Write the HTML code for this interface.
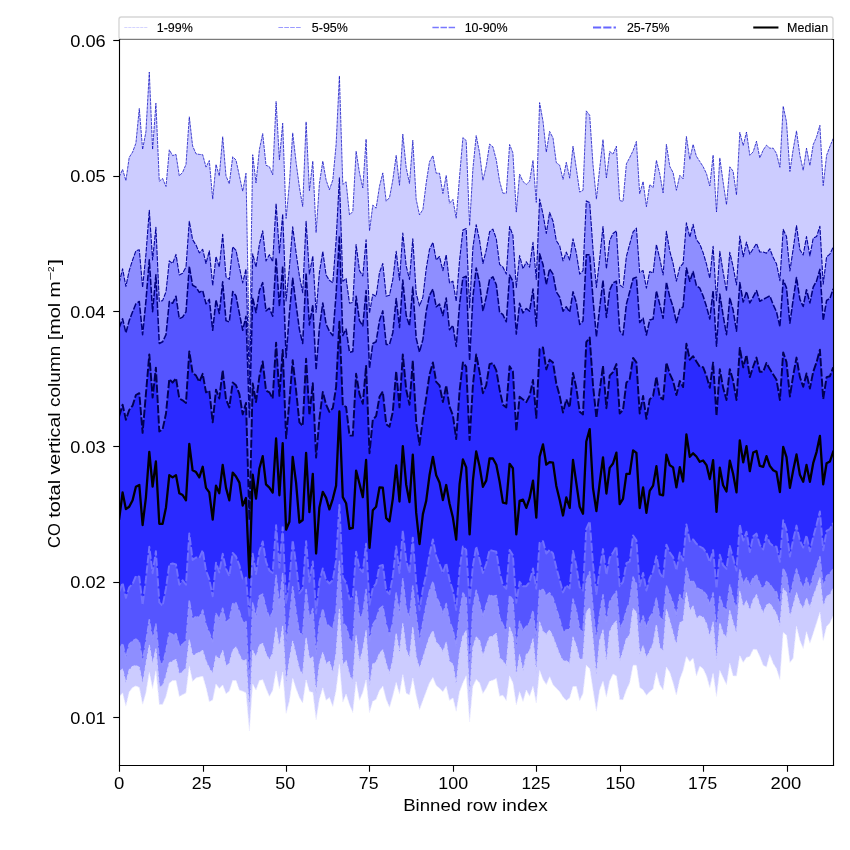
<!DOCTYPE html>
<html lang="en"><head><meta charset="utf-8"><title>CO total vertical column percentiles</title>
<style>html,body{margin:0;padding:0;background:#fff}body{width:850px;height:850px;overflow:hidden;font-family:"Liberation Sans",sans-serif}svg{display:block;will-change:transform}text{font-family:"Liberation Sans",sans-serif;fill:#000}</style></head><body>
<svg width="850" height="850" viewBox="0 0 850 850">
<rect width="850" height="850" fill="#fff"/>
<defs><clipPath id="ax"><rect x="119.0" y="39.0" width="714.0" height="726.0"/></clipPath></defs>
<g clip-path="url(#ax)">
<polygon points="119.2,176.8 122.6,169.4 125.9,180.6 129.2,157.4 132.6,152.1 135.9,143.2 139.3,108.5 142.6,149.4 145.9,131.8 149.3,72.1 152.6,149.4 155.9,103.2 159.3,181.2 162.6,178.5 166.0,186.5 169.3,149.8 172.6,155.6 176.0,154.4 179.3,175.9 182.6,172.4 186.0,164.4 189.3,116.8 192.6,145.9 196.0,153.8 199.3,154.4 202.7,154.7 206.0,167.1 209.3,160.5 212.7,199.1 216.0,164.4 219.3,175.9 222.7,136.7 226.0,175.9 229.3,183.8 232.7,156.8 236.0,160.0 239.4,175.9 242.7,191.2 246.0,173.2 249.4,357.0 252.7,154.7 256.0,182.9 259.4,149.4 262.7,133.5 266.0,165.3 269.4,166.7 272.7,174.7 276.1,101.5 279.4,159.7 282.7,123.2 286.1,218.5 289.4,183.5 292.7,132.9 296.1,162.4 299.4,187.1 302.7,206.5 306.1,121.8 309.4,190.6 312.8,161.1 316.1,232.6 319.4,183.5 322.8,161.1 326.1,180.0 329.4,189.7 332.8,180.0 336.1,144.7 339.4,75.9 342.8,184.4 346.1,181.8 349.5,215.0 352.8,211.5 356.1,151.2 359.5,172.9 362.8,187.9 366.1,139.1 369.5,230.9 372.8,205.1 376.1,208.2 379.5,186.2 382.8,172.9 386.2,201.2 389.5,197.6 392.8,180.0 396.2,155.3 399.5,185.3 402.8,134.1 406.2,167.6 409.5,183.5 412.8,140.3 416.2,199.4 419.5,214.9 422.9,209.4 426.2,182.9 429.5,161.8 432.9,155.6 436.2,173.2 439.5,173.2 442.9,193.5 446.2,175.4 449.5,203.2 452.9,199.4 456.2,218.2 459.6,175.9 462.9,137.6 466.2,140.6 469.6,225.6 472.9,168.8 476.2,135.6 479.6,152.9 482.9,180.3 486.2,166.2 489.6,144.1 492.9,146.8 496.3,160.0 499.6,181.2 502.9,193.2 506.3,193.2 509.6,144.5 512.9,152.9 516.3,212.1 519.6,174.1 523.0,181.5 526.3,184.4 529.6,181.2 533.0,160.4 536.3,202.4 539.6,102.6 543.0,121.2 546.3,152.1 549.6,131.4 553.0,137.9 556.3,162.6 559.7,165.3 563.0,179.4 566.3,162.3 569.7,178.2 573.0,146.2 576.3,168.2 579.7,192.1 583.0,190.3 586.3,110.9 589.7,115.3 593.0,164.7 596.4,199.1 599.7,168.2 603.0,139.6 606.4,177.9 609.7,151.5 613.0,154.1 616.4,146.2 619.7,200.5 623.0,201.4 626.4,163.8 629.7,157.6 633.1,150.6 636.4,141.4 639.7,193.8 643.1,181.5 646.4,206.7 649.7,184.5 653.1,187.6 656.4,160.3 659.7,173.5 663.1,192.9 666.4,144.4 669.8,166.5 673.1,172.6 676.4,190.3 679.8,175.3 683.1,178.8 686.4,136.5 689.8,159.4 693.1,144.4 696.4,156.2 699.8,161.5 703.1,166.6 706.5,173.7 709.8,186.0 713.1,155.1 716.5,212.0 719.8,157.9 723.1,181.8 726.5,204.7 729.8,166.8 733.1,171.2 736.5,195.0 739.8,132.4 743.2,145.6 746.5,132.0 749.8,155.3 753.2,151.8 756.5,141.2 759.8,157.9 763.2,150.0 766.5,145.2 769.8,148.2 773.2,148.2 776.5,153.5 779.9,167.3 783.2,106.2 786.5,121.8 789.9,171.5 793.2,149.1 796.5,130.9 799.9,155.3 803.2,170.3 806.5,148.2 809.9,165.5 813.2,144.7 816.6,136.8 819.9,125.3 823.2,185.6 826.6,155.3 829.9,146.5 833.2,138.5 833.2,615.9 829.9,622.9 826.6,626.5 823.2,640.6 819.9,612.4 816.6,622.9 813.2,633.5 809.9,643.2 806.5,631.8 803.2,648.5 799.9,640.6 796.5,626.5 793.2,658.2 789.9,662.6 786.5,635.3 783.2,632.6 779.9,679.4 776.5,668.8 773.2,663.5 769.8,654.7 766.5,667.1 763.2,665.3 759.8,656.5 756.5,649.4 753.2,649.4 749.8,656.5 746.5,657.4 743.2,662.6 739.8,655.6 736.5,675.9 733.1,675.9 729.8,663.5 726.5,684.7 723.1,677.6 719.8,670.6 716.5,696.6 713.1,673.2 709.8,687.8 706.5,675.9 703.1,668.8 699.8,666.2 696.4,675.9 693.1,658.2 689.8,661.8 686.4,656.5 683.1,670.6 679.8,679.4 676.4,695.3 673.1,682.9 669.8,672.4 666.4,667.1 663.1,690.0 659.7,684.7 656.4,672.4 653.1,689.1 649.7,691.8 646.4,695.3 643.1,690.0 639.7,687.4 636.4,665.3 633.1,665.3 629.7,682.9 626.4,690.0 623.0,699.7 619.7,699.7 616.4,675.9 613.0,674.1 609.7,681.2 606.4,697.1 603.0,681.2 599.7,690.0 596.4,711.2 593.0,690.0 589.7,668.8 586.3,665.3 583.0,693.5 579.7,700.6 576.3,686.5 573.0,686.5 569.7,697.9 566.3,700.6 563.0,697.1 559.7,691.8 556.3,688.2 553.0,684.7 549.6,676.8 546.3,684.7 543.0,679.4 539.6,670.6 536.3,703.2 533.0,686.5 529.6,696.2 526.3,690.0 523.0,701.5 519.6,691.8 516.3,705.0 512.9,682.9 509.6,675.9 506.3,700.6 502.9,695.3 499.6,696.2 496.3,678.5 492.9,680.3 489.6,681.2 486.2,688.2 482.9,693.5 479.6,682.9 476.2,679.4 472.9,686.5 469.6,721.8 466.2,675.9 462.9,682.9 459.6,691.8 456.2,711.2 452.9,697.9 449.5,700.6 446.2,686.5 442.9,691.8 439.5,688.2 436.2,685.6 432.9,677.6 429.5,682.9 426.2,691.8 422.9,700.6 419.5,709.7 416.2,695.9 412.8,678.2 409.5,695.0 406.2,693.2 402.8,674.7 399.5,694.1 396.2,682.6 392.8,695.9 389.5,707.4 386.2,699.4 382.8,686.2 379.5,690.6 376.1,699.4 372.8,701.2 369.5,712.6 366.1,680.0 362.8,692.4 359.5,700.3 356.1,681.8 352.8,712.6 349.5,704.7 346.1,694.1 342.8,702.1 339.4,664.1 336.1,690.6 332.8,706.5 329.4,697.6 326.1,700.3 322.8,687.9 319.4,699.4 316.1,719.7 312.8,692.4 309.4,691.5 306.1,680.0 302.7,702.9 299.4,697.6 296.1,688.8 292.7,678.2 289.4,701.2 286.1,713.5 282.7,672.1 279.4,688.8 276.1,671.2 272.7,690.6 269.4,696.6 266.0,688.5 262.7,679.7 259.4,680.6 256.0,690.3 252.7,684.1 249.4,731.0 246.0,692.9 242.7,691.2 239.4,690.3 236.0,680.6 232.7,680.6 229.3,691.2 226.0,693.8 222.7,685.0 219.3,688.5 216.0,684.1 212.7,700.0 209.3,701.8 206.0,687.6 202.7,676.2 199.3,677.1 196.0,677.9 192.6,681.5 189.3,666.5 186.0,692.9 182.6,694.7 179.3,696.5 176.0,680.6 172.6,680.6 169.3,683.2 166.0,696.5 162.6,704.4 159.3,704.4 155.9,670.9 152.6,688.5 149.3,672.6 145.9,692.9 142.6,704.4 139.3,687.6 135.9,685.9 132.6,687.6 129.2,692.1 125.9,706.2 122.6,692.9 119.2,696.5" fill="#0000ff" fill-opacity="0.2"/>
<polyline points="119.2,696.5 122.6,692.9 125.9,706.2 129.2,692.1 132.6,687.6 135.9,685.9 139.3,687.6 142.6,704.4 145.9,692.9 149.3,672.6 152.6,688.5 155.9,670.9 159.3,704.4 162.6,704.4 166.0,696.5 169.3,683.2 172.6,680.6 176.0,680.6 179.3,696.5 182.6,694.7 186.0,692.9 189.3,666.5 192.6,681.5 196.0,677.9 199.3,677.1 202.7,676.2 206.0,687.6 209.3,701.8 212.7,700.0 216.0,684.1 219.3,688.5 222.7,685.0 226.0,693.8 229.3,691.2 232.7,680.6 236.0,680.6 239.4,690.3 242.7,691.2 246.0,692.9 249.4,731.0 252.7,684.1 256.0,690.3 259.4,680.6 262.7,679.7 266.0,688.5 269.4,696.6 272.7,690.6 276.1,671.2 279.4,688.8 282.7,672.1 286.1,713.5 289.4,701.2 292.7,678.2 296.1,688.8 299.4,697.6 302.7,702.9 306.1,680.0 309.4,691.5 312.8,692.4 316.1,719.7 319.4,699.4 322.8,687.9 326.1,700.3 329.4,697.6 332.8,706.5 336.1,690.6 339.4,664.1 342.8,702.1 346.1,694.1 349.5,704.7 352.8,712.6 356.1,681.8 359.5,700.3 362.8,692.4 366.1,680.0 369.5,712.6 372.8,701.2 376.1,699.4 379.5,690.6 382.8,686.2 386.2,699.4 389.5,707.4 392.8,695.9 396.2,682.6 399.5,694.1 402.8,674.7 406.2,693.2 409.5,695.0 412.8,678.2 416.2,695.9 419.5,709.7 422.9,700.6 426.2,691.8 429.5,682.9 432.9,677.6 436.2,685.6 439.5,688.2 442.9,691.8 446.2,686.5 449.5,700.6 452.9,697.9 456.2,711.2 459.6,691.8 462.9,682.9 466.2,675.9 469.6,721.8 472.9,686.5 476.2,679.4 479.6,682.9 482.9,693.5 486.2,688.2 489.6,681.2 492.9,680.3 496.3,678.5 499.6,696.2 502.9,695.3 506.3,700.6 509.6,675.9 512.9,682.9 516.3,705.0 519.6,691.8 523.0,701.5 526.3,690.0 529.6,696.2 533.0,686.5 536.3,703.2 539.6,670.6 543.0,679.4 546.3,684.7 549.6,676.8 553.0,684.7 556.3,688.2 559.7,691.8 563.0,697.1 566.3,700.6 569.7,697.9 573.0,686.5 576.3,686.5 579.7,700.6 583.0,693.5 586.3,665.3 589.7,668.8 593.0,690.0 596.4,711.2 599.7,690.0 603.0,681.2 606.4,697.1 609.7,681.2 613.0,674.1 616.4,675.9 619.7,699.7 623.0,699.7 626.4,690.0 629.7,682.9 633.1,665.3 636.4,665.3 639.7,687.4 643.1,690.0 646.4,695.3 649.7,691.8 653.1,689.1 656.4,672.4 659.7,684.7 663.1,690.0 666.4,667.1 669.8,672.4 673.1,682.9 676.4,695.3 679.8,679.4 683.1,670.6 686.4,656.5 689.8,661.8 693.1,658.2 696.4,675.9 699.8,666.2 703.1,668.8 706.5,675.9 709.8,687.8 713.1,673.2 716.5,696.6 719.8,670.6 723.1,677.6 726.5,684.7 729.8,663.5 733.1,675.9 736.5,675.9 739.8,655.6 743.2,662.6 746.5,657.4 749.8,656.5 753.2,649.4 756.5,649.4 759.8,656.5 763.2,665.3 766.5,667.1 769.8,654.7 773.2,663.5 776.5,668.8 779.9,679.4 783.2,632.6 786.5,635.3 789.9,662.6 793.2,658.2 796.5,626.5 799.9,640.6 803.2,648.5 806.5,631.8 809.9,643.2 813.2,633.5 816.6,622.9 819.9,612.4 823.2,640.6 826.6,626.5 829.9,622.9 833.2,615.9" fill="none" stroke="#eeeeff" stroke-width="0.75" stroke-dasharray="3.15 0.83" stroke-linejoin="round"/>
<polyline points="119.2,176.8 122.6,169.4 125.9,180.6 129.2,157.4 132.6,152.1 135.9,143.2 139.3,108.5 142.6,149.4 145.9,131.8 149.3,72.1 152.6,149.4 155.9,103.2 159.3,181.2 162.6,178.5 166.0,186.5 169.3,149.8 172.6,155.6 176.0,154.4 179.3,175.9 182.6,172.4 186.0,164.4 189.3,116.8 192.6,145.9 196.0,153.8 199.3,154.4 202.7,154.7 206.0,167.1 209.3,160.5 212.7,199.1 216.0,164.4 219.3,175.9 222.7,136.7 226.0,175.9 229.3,183.8 232.7,156.8 236.0,160.0 239.4,175.9 242.7,191.2 246.0,173.2 249.4,357.0 252.7,154.7 256.0,182.9 259.4,149.4 262.7,133.5 266.0,165.3 269.4,166.7 272.7,174.7 276.1,101.5 279.4,159.7 282.7,123.2 286.1,218.5 289.4,183.5 292.7,132.9 296.1,162.4 299.4,187.1 302.7,206.5 306.1,121.8 309.4,190.6 312.8,161.1 316.1,232.6 319.4,183.5 322.8,161.1 326.1,180.0 329.4,189.7 332.8,180.0 336.1,144.7 339.4,75.9 342.8,184.4 346.1,181.8 349.5,215.0 352.8,211.5 356.1,151.2 359.5,172.9 362.8,187.9 366.1,139.1 369.5,230.9 372.8,205.1 376.1,208.2 379.5,186.2 382.8,172.9 386.2,201.2 389.5,197.6 392.8,180.0 396.2,155.3 399.5,185.3 402.8,134.1 406.2,167.6 409.5,183.5 412.8,140.3 416.2,199.4 419.5,214.9 422.9,209.4 426.2,182.9 429.5,161.8 432.9,155.6 436.2,173.2 439.5,173.2 442.9,193.5 446.2,175.4 449.5,203.2 452.9,199.4 456.2,218.2 459.6,175.9 462.9,137.6 466.2,140.6 469.6,225.6 472.9,168.8 476.2,135.6 479.6,152.9 482.9,180.3 486.2,166.2 489.6,144.1 492.9,146.8 496.3,160.0 499.6,181.2 502.9,193.2 506.3,193.2 509.6,144.5 512.9,152.9 516.3,212.1 519.6,174.1 523.0,181.5 526.3,184.4 529.6,181.2 533.0,160.4 536.3,202.4 539.6,102.6 543.0,121.2 546.3,152.1 549.6,131.4 553.0,137.9 556.3,162.6 559.7,165.3 563.0,179.4 566.3,162.3 569.7,178.2 573.0,146.2 576.3,168.2 579.7,192.1 583.0,190.3 586.3,110.9 589.7,115.3 593.0,164.7 596.4,199.1 599.7,168.2 603.0,139.6 606.4,177.9 609.7,151.5 613.0,154.1 616.4,146.2 619.7,200.5 623.0,201.4 626.4,163.8 629.7,157.6 633.1,150.6 636.4,141.4 639.7,193.8 643.1,181.5 646.4,206.7 649.7,184.5 653.1,187.6 656.4,160.3 659.7,173.5 663.1,192.9 666.4,144.4 669.8,166.5 673.1,172.6 676.4,190.3 679.8,175.3 683.1,178.8 686.4,136.5 689.8,159.4 693.1,144.4 696.4,156.2 699.8,161.5 703.1,166.6 706.5,173.7 709.8,186.0 713.1,155.1 716.5,212.0 719.8,157.9 723.1,181.8 726.5,204.7 729.8,166.8 733.1,171.2 736.5,195.0 739.8,132.4 743.2,145.6 746.5,132.0 749.8,155.3 753.2,151.8 756.5,141.2 759.8,157.9 763.2,150.0 766.5,145.2 769.8,148.2 773.2,148.2 776.5,153.5 779.9,167.3 783.2,106.2 786.5,121.8 789.9,171.5 793.2,149.1 796.5,130.9 799.9,155.3 803.2,170.3 806.5,148.2 809.9,165.5 813.2,144.7 816.6,136.8 819.9,125.3 823.2,185.6 826.6,155.3 829.9,146.5 833.2,138.5" fill="none" stroke="#0c0cc0" stroke-width="0.75" stroke-dasharray="3.15 0.83" stroke-linejoin="round"/>
<polygon points="119.2,282.9 122.6,268.8 125.9,286.5 129.2,270.6 132.6,260.0 135.9,250.8 139.3,249.8 142.6,287.4 145.9,254.7 149.3,210.2 152.6,260.0 155.9,227.4 159.3,301.5 162.6,300.6 166.0,291.8 169.3,260.9 172.6,263.5 176.0,254.4 179.3,275.0 182.6,273.2 186.0,267.1 189.3,221.2 192.6,239.7 196.0,245.0 199.3,252.9 202.7,249.4 206.0,263.5 209.3,250.8 212.7,285.6 216.0,256.5 219.3,267.1 222.7,234.4 226.0,276.8 229.3,279.4 232.7,246.8 236.0,250.3 239.4,267.1 242.7,282.9 246.0,268.8 249.4,384.0 252.7,253.8 256.0,267.1 259.4,244.1 262.7,230.9 266.0,260.9 269.4,254.7 272.7,261.8 276.1,203.5 279.4,252.9 282.7,214.1 286.1,300.9 289.4,267.4 292.7,226.8 296.1,252.9 299.4,275.9 302.7,292.6 306.1,221.2 309.4,274.1 312.8,255.9 316.1,312.4 319.4,272.4 322.8,251.5 326.1,275.0 329.4,280.3 332.8,282.9 336.1,240.6 339.4,177.9 342.8,281.2 346.1,278.5 349.5,303.2 352.8,302.4 356.1,244.5 359.5,270.6 362.8,275.9 366.1,239.7 369.5,313.2 372.8,294.4 376.1,296.2 379.5,272.4 382.8,263.5 386.2,296.2 389.5,295.3 392.8,279.4 396.2,251.2 399.5,280.3 402.8,233.0 406.2,266.2 409.5,279.4 412.8,238.8 416.2,293.5 419.5,305.9 422.9,297.1 426.2,268.8 429.5,249.4 432.9,242.4 436.2,260.0 439.5,256.5 442.9,270.6 446.2,254.7 449.5,282.9 452.9,281.2 456.2,301.5 459.6,260.0 462.9,230.0 466.2,228.6 469.6,307.6 472.9,247.6 476.2,224.7 479.6,240.6 482.9,263.5 486.2,250.3 489.6,231.8 492.9,229.1 496.3,238.8 499.6,264.4 502.9,267.1 506.3,274.1 509.6,226.5 512.9,235.3 516.3,287.4 519.6,255.6 523.0,268.8 526.3,261.8 529.6,267.1 533.0,242.4 536.3,279.4 539.6,199.1 543.0,214.1 546.3,233.5 549.6,212.4 553.0,221.2 556.3,240.6 559.7,245.9 563.0,260.9 566.3,252.1 569.7,260.0 573.0,238.8 576.3,252.9 579.7,274.1 583.0,270.6 586.3,200.9 589.7,202.6 593.0,249.4 596.4,287.4 599.7,258.2 603.0,226.5 606.4,268.8 609.7,240.6 613.0,233.5 616.4,230.9 619.7,284.7 623.0,287.4 626.4,256.5 629.7,244.1 633.1,231.8 636.4,228.2 639.7,272.4 643.1,270.6 646.4,288.2 649.7,271.5 653.1,273.2 656.4,244.5 659.7,258.2 663.1,275.0 666.4,231.4 669.8,251.2 673.1,263.5 676.4,281.2 679.8,267.1 683.1,263.5 686.4,222.9 689.8,237.1 693.1,224.4 696.4,239.7 699.8,244.1 703.1,252.6 706.5,264.1 709.8,278.2 713.1,246.2 716.5,300.7 719.8,251.3 723.1,271.8 726.5,291.2 729.8,252.4 733.1,266.5 736.5,285.0 739.8,236.1 743.2,256.8 746.5,242.1 749.8,254.1 753.2,248.8 756.5,243.5 759.8,252.0 763.2,252.0 766.5,253.2 769.8,248.8 773.2,257.6 776.5,263.8 779.9,280.6 783.2,229.4 786.5,236.5 789.9,270.9 793.2,248.8 796.5,225.5 799.9,249.7 803.2,255.0 806.5,236.5 809.9,255.9 813.2,238.2 816.6,236.5 819.9,226.2 823.2,284.1 826.6,256.8 829.9,254.1 833.2,247.1 833.2,588.5 829.9,594.7 826.6,596.5 823.2,607.1 819.9,577.9 816.6,587.6 813.2,596.5 809.9,607.9 806.5,598.2 803.2,608.8 799.9,603.5 796.5,592.9 793.2,605.3 789.9,617.6 786.5,592.9 783.2,588.5 779.9,626.5 776.5,614.1 773.2,608.8 769.8,603.5 766.5,605.3 763.2,613.2 759.8,605.3 756.5,594.7 753.2,600.0 749.8,610.6 746.5,600.9 743.2,607.1 739.8,591.2 736.5,633.5 733.1,622.9 729.8,610.6 726.5,637.9 723.1,633.5 719.8,622.9 716.5,662.6 713.1,622.1 709.8,637.1 706.5,623.8 703.1,617.2 699.8,615.9 696.4,618.5 693.1,606.2 689.8,610.6 686.4,592.9 683.1,621.2 679.8,622.9 676.4,645.9 673.1,633.5 669.8,621.2 666.4,609.7 663.1,651.2 659.7,647.6 656.4,624.7 653.1,644.1 649.7,651.2 646.4,658.2 643.1,645.9 639.7,654.7 636.4,612.4 633.1,608.8 629.7,635.3 626.4,638.8 623.0,651.2 619.7,661.8 616.4,621.2 613.0,624.7 609.7,631.8 606.4,663.5 603.0,630.0 599.7,640.6 596.4,675.9 593.0,640.6 589.7,607.9 586.3,612.4 583.0,658.2 579.7,660.0 576.3,645.9 573.0,637.1 569.7,663.5 566.3,660.9 563.0,660.9 559.7,654.7 556.3,645.9 553.0,637.1 549.6,630.0 546.3,634.4 543.0,631.8 539.6,622.1 536.3,674.1 533.0,638.8 529.6,651.2 526.3,654.7 523.0,671.5 519.6,654.7 516.3,676.8 512.9,636.2 509.6,627.4 506.3,666.2 502.9,660.9 499.6,658.2 496.3,633.5 492.9,636.2 489.6,637.1 486.2,645.9 482.9,656.5 479.6,640.6 476.2,637.1 472.9,647.6 469.6,697.1 466.2,630.9 462.9,636.2 459.6,652.9 456.2,684.7 452.9,664.4 449.5,661.8 446.2,642.4 442.9,652.1 439.5,645.9 436.2,642.4 432.9,630.9 429.5,637.1 426.2,647.6 422.9,658.2 419.5,669.1 416.2,657.1 412.8,627.1 409.5,657.9 406.2,650.0 402.8,623.5 399.5,653.5 396.2,633.2 392.8,660.6 389.5,673.8 386.2,664.1 382.8,650.0 379.5,653.5 376.1,662.4 372.8,664.1 369.5,687.9 366.1,630.6 362.8,650.0 359.5,662.4 356.1,635.9 352.8,681.8 349.5,674.7 346.1,660.6 342.8,665.9 339.4,609.4 336.1,653.5 332.8,672.9 329.4,661.5 326.1,664.1 322.8,652.6 319.4,664.1 316.1,694.1 312.8,657.1 309.4,658.8 306.1,637.6 302.7,674.7 299.4,669.4 296.1,655.3 292.7,641.2 289.4,660.6 286.1,683.5 282.7,626.2 279.4,648.2 276.1,627.9 272.7,653.5 269.4,660.0 266.0,654.1 262.7,643.5 259.4,645.3 256.0,657.6 252.7,650.6 249.4,712.0 246.0,659.4 242.7,661.2 239.4,655.0 236.0,647.1 232.7,650.6 229.3,663.8 226.0,666.5 222.7,650.6 219.3,659.4 216.0,655.9 212.7,673.5 209.3,668.2 206.0,661.2 202.7,650.6 199.3,652.4 196.0,654.1 192.6,655.9 189.3,640.0 186.0,668.2 182.6,671.8 179.3,674.4 176.0,659.4 172.6,661.2 169.3,662.9 166.0,676.2 162.6,685.9 159.3,686.8 155.9,648.8 152.6,664.7 149.3,645.3 145.9,664.7 142.6,684.1 139.3,667.4 135.9,665.6 132.6,666.5 129.2,670.0 125.9,683.2 122.6,669.1 119.2,671.8" fill="#0000ff" fill-opacity="0.3"/>
<polyline points="119.2,671.8 122.6,669.1 125.9,683.2 129.2,670.0 132.6,666.5 135.9,665.6 139.3,667.4 142.6,684.1 145.9,664.7 149.3,645.3 152.6,664.7 155.9,648.8 159.3,686.8 162.6,685.9 166.0,676.2 169.3,662.9 172.6,661.2 176.0,659.4 179.3,674.4 182.6,671.8 186.0,668.2 189.3,640.0 192.6,655.9 196.0,654.1 199.3,652.4 202.7,650.6 206.0,661.2 209.3,668.2 212.7,673.5 216.0,655.9 219.3,659.4 222.7,650.6 226.0,666.5 229.3,663.8 232.7,650.6 236.0,647.1 239.4,655.0 242.7,661.2 246.0,659.4 249.4,712.0 252.7,650.6 256.0,657.6 259.4,645.3 262.7,643.5 266.0,654.1 269.4,660.0 272.7,653.5 276.1,627.9 279.4,648.2 282.7,626.2 286.1,683.5 289.4,660.6 292.7,641.2 296.1,655.3 299.4,669.4 302.7,674.7 306.1,637.6 309.4,658.8 312.8,657.1 316.1,694.1 319.4,664.1 322.8,652.6 326.1,664.1 329.4,661.5 332.8,672.9 336.1,653.5 339.4,609.4 342.8,665.9 346.1,660.6 349.5,674.7 352.8,681.8 356.1,635.9 359.5,662.4 362.8,650.0 366.1,630.6 369.5,687.9 372.8,664.1 376.1,662.4 379.5,653.5 382.8,650.0 386.2,664.1 389.5,673.8 392.8,660.6 396.2,633.2 399.5,653.5 402.8,623.5 406.2,650.0 409.5,657.9 412.8,627.1 416.2,657.1 419.5,669.1 422.9,658.2 426.2,647.6 429.5,637.1 432.9,630.9 436.2,642.4 439.5,645.9 442.9,652.1 446.2,642.4 449.5,661.8 452.9,664.4 456.2,684.7 459.6,652.9 462.9,636.2 466.2,630.9 469.6,697.1 472.9,647.6 476.2,637.1 479.6,640.6 482.9,656.5 486.2,645.9 489.6,637.1 492.9,636.2 496.3,633.5 499.6,658.2 502.9,660.9 506.3,666.2 509.6,627.4 512.9,636.2 516.3,676.8 519.6,654.7 523.0,671.5 526.3,654.7 529.6,651.2 533.0,638.8 536.3,674.1 539.6,622.1 543.0,631.8 546.3,634.4 549.6,630.0 553.0,637.1 556.3,645.9 559.7,654.7 563.0,660.9 566.3,660.9 569.7,663.5 573.0,637.1 576.3,645.9 579.7,660.0 583.0,658.2 586.3,612.4 589.7,607.9 593.0,640.6 596.4,675.9 599.7,640.6 603.0,630.0 606.4,663.5 609.7,631.8 613.0,624.7 616.4,621.2 619.7,661.8 623.0,651.2 626.4,638.8 629.7,635.3 633.1,608.8 636.4,612.4 639.7,654.7 643.1,645.9 646.4,658.2 649.7,651.2 653.1,644.1 656.4,624.7 659.7,647.6 663.1,651.2 666.4,609.7 669.8,621.2 673.1,633.5 676.4,645.9 679.8,622.9 683.1,621.2 686.4,592.9 689.8,610.6 693.1,606.2 696.4,618.5 699.8,615.9 703.1,617.2 706.5,623.8 709.8,637.1 713.1,622.1 716.5,662.6 719.8,622.9 723.1,633.5 726.5,637.9 729.8,610.6 733.1,622.9 736.5,633.5 739.8,591.2 743.2,607.1 746.5,600.9 749.8,610.6 753.2,600.0 756.5,594.7 759.8,605.3 763.2,613.2 766.5,605.3 769.8,603.5 773.2,608.8 776.5,614.1 779.9,626.5 783.2,588.5 786.5,592.9 789.9,617.6 793.2,605.3 796.5,592.9 799.9,603.5 803.2,608.8 806.5,598.2 809.9,607.9 813.2,596.5 816.6,587.6 819.9,577.9 823.2,607.1 826.6,596.5 829.9,594.7 833.2,588.5" fill="none" stroke="#ccccff" stroke-width="1.11" stroke-dasharray="4.66 1.22" stroke-linejoin="round"/>
<polyline points="119.2,282.9 122.6,268.8 125.9,286.5 129.2,270.6 132.6,260.0 135.9,250.8 139.3,249.8 142.6,287.4 145.9,254.7 149.3,210.2 152.6,260.0 155.9,227.4 159.3,301.5 162.6,300.6 166.0,291.8 169.3,260.9 172.6,263.5 176.0,254.4 179.3,275.0 182.6,273.2 186.0,267.1 189.3,221.2 192.6,239.7 196.0,245.0 199.3,252.9 202.7,249.4 206.0,263.5 209.3,250.8 212.7,285.6 216.0,256.5 219.3,267.1 222.7,234.4 226.0,276.8 229.3,279.4 232.7,246.8 236.0,250.3 239.4,267.1 242.7,282.9 246.0,268.8 249.4,384.0 252.7,253.8 256.0,267.1 259.4,244.1 262.7,230.9 266.0,260.9 269.4,254.7 272.7,261.8 276.1,203.5 279.4,252.9 282.7,214.1 286.1,300.9 289.4,267.4 292.7,226.8 296.1,252.9 299.4,275.9 302.7,292.6 306.1,221.2 309.4,274.1 312.8,255.9 316.1,312.4 319.4,272.4 322.8,251.5 326.1,275.0 329.4,280.3 332.8,282.9 336.1,240.6 339.4,177.9 342.8,281.2 346.1,278.5 349.5,303.2 352.8,302.4 356.1,244.5 359.5,270.6 362.8,275.9 366.1,239.7 369.5,313.2 372.8,294.4 376.1,296.2 379.5,272.4 382.8,263.5 386.2,296.2 389.5,295.3 392.8,279.4 396.2,251.2 399.5,280.3 402.8,233.0 406.2,266.2 409.5,279.4 412.8,238.8 416.2,293.5 419.5,305.9 422.9,297.1 426.2,268.8 429.5,249.4 432.9,242.4 436.2,260.0 439.5,256.5 442.9,270.6 446.2,254.7 449.5,282.9 452.9,281.2 456.2,301.5 459.6,260.0 462.9,230.0 466.2,228.6 469.6,307.6 472.9,247.6 476.2,224.7 479.6,240.6 482.9,263.5 486.2,250.3 489.6,231.8 492.9,229.1 496.3,238.8 499.6,264.4 502.9,267.1 506.3,274.1 509.6,226.5 512.9,235.3 516.3,287.4 519.6,255.6 523.0,268.8 526.3,261.8 529.6,267.1 533.0,242.4 536.3,279.4 539.6,199.1 543.0,214.1 546.3,233.5 549.6,212.4 553.0,221.2 556.3,240.6 559.7,245.9 563.0,260.9 566.3,252.1 569.7,260.0 573.0,238.8 576.3,252.9 579.7,274.1 583.0,270.6 586.3,200.9 589.7,202.6 593.0,249.4 596.4,287.4 599.7,258.2 603.0,226.5 606.4,268.8 609.7,240.6 613.0,233.5 616.4,230.9 619.7,284.7 623.0,287.4 626.4,256.5 629.7,244.1 633.1,231.8 636.4,228.2 639.7,272.4 643.1,270.6 646.4,288.2 649.7,271.5 653.1,273.2 656.4,244.5 659.7,258.2 663.1,275.0 666.4,231.4 669.8,251.2 673.1,263.5 676.4,281.2 679.8,267.1 683.1,263.5 686.4,222.9 689.8,237.1 693.1,224.4 696.4,239.7 699.8,244.1 703.1,252.6 706.5,264.1 709.8,278.2 713.1,246.2 716.5,300.7 719.8,251.3 723.1,271.8 726.5,291.2 729.8,252.4 733.1,266.5 736.5,285.0 739.8,236.1 743.2,256.8 746.5,242.1 749.8,254.1 753.2,248.8 756.5,243.5 759.8,252.0 763.2,252.0 766.5,253.2 769.8,248.8 773.2,257.6 776.5,263.8 779.9,280.6 783.2,229.4 786.5,236.5 789.9,270.9 793.2,248.8 796.5,225.5 799.9,249.7 803.2,255.0 806.5,236.5 809.9,255.9 813.2,238.2 816.6,236.5 819.9,226.2 823.2,284.1 826.6,256.8 829.9,254.1 833.2,247.1" fill="none" stroke="#06069c" stroke-width="1.11" stroke-dasharray="4.66 1.22" stroke-linejoin="round"/>
<polygon points="119.2,327.6 122.6,318.8 125.9,332.9 129.2,320.6 132.6,311.8 135.9,303.8 139.3,301.5 142.6,334.7 145.9,301.2 149.3,259.7 152.6,311.8 155.9,274.7 159.3,343.5 162.6,341.8 166.0,334.7 169.3,301.5 172.6,303.3 176.0,296.2 179.3,318.8 182.6,317.1 186.0,311.8 189.3,266.2 192.6,285.3 196.0,287.1 199.3,292.4 202.7,290.6 206.0,303.8 209.3,299.4 212.7,330.3 216.0,299.8 219.3,313.5 222.7,281.8 226.0,320.6 229.3,322.0 232.7,291.5 236.0,295.9 239.4,313.5 242.7,330.3 246.0,316.2 249.4,418.0 252.7,297.6 256.0,312.6 259.4,290.6 262.7,282.6 266.0,310.9 269.4,308.2 272.7,316.2 276.1,257.9 279.4,306.5 282.7,265.9 286.1,357.6 289.4,313.5 292.7,278.2 296.1,304.7 299.4,329.4 302.7,343.5 306.1,272.9 309.4,325.0 312.8,304.7 316.1,370.0 319.4,327.6 322.8,302.9 326.1,324.1 329.4,331.2 332.8,335.6 336.1,294.1 339.4,235.9 342.8,335.6 346.1,329.1 349.5,352.4 352.8,351.5 356.1,296.2 359.5,320.6 362.8,325.9 366.1,290.6 369.5,368.2 372.8,343.5 376.1,341.8 379.5,320.6 382.8,310.9 386.2,344.4 389.5,344.4 392.8,332.9 396.2,298.5 399.5,327.6 402.8,280.0 406.2,315.3 409.5,325.9 412.8,287.1 416.2,338.2 419.5,352.1 422.9,339.4 426.2,311.2 429.5,295.3 432.9,289.1 436.2,306.8 439.5,304.1 442.9,315.6 446.2,297.9 449.5,329.7 452.9,325.3 456.2,346.5 459.6,304.1 462.9,277.6 466.2,276.2 469.6,360.6 472.9,297.1 476.2,267.9 479.6,282.9 482.9,311.2 486.2,297.1 489.6,279.4 492.9,276.8 496.3,284.7 499.6,312.1 502.9,314.7 506.3,321.8 509.6,275.0 512.9,281.2 516.3,334.1 519.6,303.2 523.0,312.9 526.3,308.5 529.6,311.2 533.0,289.1 536.3,326.2 539.6,253.8 543.0,264.4 546.3,284.7 549.6,268.8 553.0,274.1 556.3,291.8 559.7,297.1 563.0,311.2 566.3,306.8 569.7,312.1 573.0,291.8 576.3,302.4 579.7,324.4 583.0,320.9 586.3,254.7 589.7,254.7 593.0,298.8 596.4,336.8 599.7,307.6 603.0,280.3 606.4,317.4 609.7,290.0 613.0,282.9 616.4,281.2 619.7,330.6 623.0,335.0 626.4,304.1 629.7,291.8 633.1,278.5 636.4,277.3 639.7,322.6 643.1,318.2 646.4,335.0 649.7,320.0 653.1,319.1 656.4,290.9 659.7,304.1 663.1,318.2 666.4,282.1 669.8,297.1 673.1,306.8 676.4,322.6 679.8,309.4 683.1,306.8 686.4,267.9 689.8,281.2 693.1,271.5 696.4,285.6 699.8,288.2 703.1,296.0 706.5,306.6 709.8,319.0 713.1,290.7 716.5,346.3 719.8,294.1 723.1,315.3 726.5,334.7 729.8,297.6 733.1,310.0 736.5,331.2 739.8,282.6 743.2,302.1 746.5,291.5 749.8,302.9 753.2,296.8 756.5,290.6 759.8,301.2 763.2,299.4 766.5,297.6 769.8,295.9 773.2,304.7 776.5,311.8 779.9,326.8 783.2,280.0 786.5,287.9 789.9,323.2 793.2,299.4 796.5,277.4 799.9,299.4 803.2,306.5 806.5,289.7 809.9,302.9 813.2,287.1 816.6,280.9 819.9,269.4 823.2,320.6 826.6,300.3 829.9,298.5 833.2,288.8 833.2,569.1 829.9,573.5 826.6,576.2 823.2,587.6 819.9,556.8 816.6,567.4 813.2,576.2 809.9,589.4 806.5,577.9 803.2,589.4 799.9,580.6 796.5,569.1 793.2,582.4 789.9,598.2 786.5,575.3 783.2,568.2 779.9,607.1 776.5,592.1 773.2,589.4 769.8,584.1 766.5,581.5 763.2,589.4 759.8,584.1 756.5,575.3 753.2,577.9 749.8,585.9 746.5,577.9 743.2,584.1 739.8,570.0 736.5,610.6 733.1,598.2 729.8,585.0 726.5,610.6 723.1,607.1 719.8,596.5 716.5,631.8 713.1,592.9 709.8,605.3 706.5,595.1 703.1,590.7 699.8,589.4 696.4,587.6 693.1,580.6 689.8,582.4 686.4,568.2 683.1,601.8 679.8,594.7 676.4,615.9 673.1,603.5 669.8,594.7 666.4,585.9 663.1,620.3 659.7,617.6 656.4,598.2 653.1,612.4 649.7,617.6 646.4,628.2 643.1,615.9 639.7,628.2 636.4,584.1 633.1,577.1 629.7,601.8 626.4,610.6 623.0,622.9 619.7,628.2 616.4,591.2 613.0,596.5 609.7,601.8 606.4,622.9 603.0,594.7 599.7,614.1 596.4,640.6 593.0,608.8 589.7,571.8 586.3,580.6 583.0,631.8 579.7,630.0 576.3,610.6 573.0,599.1 569.7,629.6 566.3,630.0 563.0,631.8 559.7,619.4 556.3,608.8 553.0,598.2 549.6,592.9 546.3,595.6 543.0,589.4 539.6,590.3 536.3,640.6 533.0,610.6 529.6,622.9 526.3,626.5 523.0,630.9 519.6,621.2 516.3,647.6 512.9,600.0 509.6,595.6 506.3,631.8 502.9,624.7 499.6,617.6 496.3,595.6 492.9,596.5 489.6,594.7 486.2,605.3 482.9,616.8 479.6,603.5 476.2,590.3 472.9,608.8 469.6,668.8 466.2,598.2 462.9,592.9 459.6,614.1 456.2,645.9 452.9,630.0 449.5,621.2 446.2,603.5 442.9,614.1 439.5,603.5 436.2,596.5 432.9,581.5 429.5,591.2 426.2,605.3 422.9,622.9 419.5,640.6 416.2,615.9 412.8,585.9 409.5,617.6 406.2,608.8 402.8,578.8 399.5,614.1 396.2,592.9 392.8,622.9 389.5,635.3 386.2,624.7 382.8,606.2 379.5,608.8 376.1,619.4 372.8,624.7 369.5,642.4 366.1,589.4 362.8,614.1 359.5,617.6 356.1,591.2 352.8,644.1 349.5,638.8 346.1,626.5 342.8,622.9 339.4,561.2 336.1,610.6 332.8,629.1 329.4,626.5 326.1,622.9 322.8,608.8 319.4,622.9 316.1,654.7 312.8,608.8 309.4,619.4 306.1,589.4 302.7,634.4 299.4,633.5 296.1,612.4 292.7,586.8 289.4,619.4 286.1,644.1 282.7,573.5 279.4,605.3 276.1,575.3 272.7,612.4 269.4,617.8 266.0,608.2 262.7,594.1 259.4,595.9 256.0,617.1 252.7,602.9 249.4,688.0 246.0,621.5 242.7,622.4 239.4,611.8 236.0,602.9 232.7,603.8 229.3,619.7 226.0,622.4 222.7,608.2 219.3,619.7 216.0,613.5 212.7,641.8 209.3,632.9 206.0,625.0 202.7,610.0 199.3,617.9 196.0,616.2 192.6,619.7 189.3,600.3 186.0,640.9 182.6,644.4 179.3,646.2 176.0,633.8 172.6,634.7 169.3,632.9 166.0,650.6 162.6,664.7 159.3,660.3 155.9,624.1 152.6,640.0 149.3,619.7 145.9,641.8 142.6,661.2 139.3,641.8 135.9,639.1 132.6,640.9 129.2,644.4 125.9,657.6 122.6,643.5 119.2,649.7" fill="#0000ff" fill-opacity="0.4"/>
<polyline points="119.2,649.7 122.6,643.5 125.9,657.6 129.2,644.4 132.6,640.9 135.9,639.1 139.3,641.8 142.6,661.2 145.9,641.8 149.3,619.7 152.6,640.0 155.9,624.1 159.3,660.3 162.6,664.7 166.0,650.6 169.3,632.9 172.6,634.7 176.0,633.8 179.3,646.2 182.6,644.4 186.0,640.9 189.3,600.3 192.6,619.7 196.0,616.2 199.3,617.9 202.7,610.0 206.0,625.0 209.3,632.9 212.7,641.8 216.0,613.5 219.3,619.7 222.7,608.2 226.0,622.4 229.3,619.7 232.7,603.8 236.0,602.9 239.4,611.8 242.7,622.4 246.0,621.5 249.4,688.0 252.7,602.9 256.0,617.1 259.4,595.9 262.7,594.1 266.0,608.2 269.4,617.8 272.7,612.4 276.1,575.3 279.4,605.3 282.7,573.5 286.1,644.1 289.4,619.4 292.7,586.8 296.1,612.4 299.4,633.5 302.7,634.4 306.1,589.4 309.4,619.4 312.8,608.8 316.1,654.7 319.4,622.9 322.8,608.8 326.1,622.9 329.4,626.5 332.8,629.1 336.1,610.6 339.4,561.2 342.8,622.9 346.1,626.5 349.5,638.8 352.8,644.1 356.1,591.2 359.5,617.6 362.8,614.1 366.1,589.4 369.5,642.4 372.8,624.7 376.1,619.4 379.5,608.8 382.8,606.2 386.2,624.7 389.5,635.3 392.8,622.9 396.2,592.9 399.5,614.1 402.8,578.8 406.2,608.8 409.5,617.6 412.8,585.9 416.2,615.9 419.5,640.6 422.9,622.9 426.2,605.3 429.5,591.2 432.9,581.5 436.2,596.5 439.5,603.5 442.9,614.1 446.2,603.5 449.5,621.2 452.9,630.0 456.2,645.9 459.6,614.1 462.9,592.9 466.2,598.2 469.6,668.8 472.9,608.8 476.2,590.3 479.6,603.5 482.9,616.8 486.2,605.3 489.6,594.7 492.9,596.5 496.3,595.6 499.6,617.6 502.9,624.7 506.3,631.8 509.6,595.6 512.9,600.0 516.3,647.6 519.6,621.2 523.0,630.9 526.3,626.5 529.6,622.9 533.0,610.6 536.3,640.6 539.6,590.3 543.0,589.4 546.3,595.6 549.6,592.9 553.0,598.2 556.3,608.8 559.7,619.4 563.0,631.8 566.3,630.0 569.7,629.6 573.0,599.1 576.3,610.6 579.7,630.0 583.0,631.8 586.3,580.6 589.7,571.8 593.0,608.8 596.4,640.6 599.7,614.1 603.0,594.7 606.4,622.9 609.7,601.8 613.0,596.5 616.4,591.2 619.7,628.2 623.0,622.9 626.4,610.6 629.7,601.8 633.1,577.1 636.4,584.1 639.7,628.2 643.1,615.9 646.4,628.2 649.7,617.6 653.1,612.4 656.4,598.2 659.7,617.6 663.1,620.3 666.4,585.9 669.8,594.7 673.1,603.5 676.4,615.9 679.8,594.7 683.1,601.8 686.4,568.2 689.8,582.4 693.1,580.6 696.4,587.6 699.8,589.4 703.1,590.7 706.5,595.1 709.8,605.3 713.1,592.9 716.5,631.8 719.8,596.5 723.1,607.1 726.5,610.6 729.8,585.0 733.1,598.2 736.5,610.6 739.8,570.0 743.2,584.1 746.5,577.9 749.8,585.9 753.2,577.9 756.5,575.3 759.8,584.1 763.2,589.4 766.5,581.5 769.8,584.1 773.2,589.4 776.5,592.1 779.9,607.1 783.2,568.2 786.5,575.3 789.9,598.2 793.2,582.4 796.5,569.1 799.9,580.6 803.2,589.4 806.5,577.9 809.9,589.4 813.2,576.2 816.6,567.4 819.9,556.8 823.2,587.6 826.6,576.2 829.9,573.5 833.2,569.1" fill="none" stroke="#9292ff" stroke-width="1.53" stroke-dasharray="6.43 1.68" stroke-linejoin="round"/>
<polyline points="119.2,327.6 122.6,318.8 125.9,332.9 129.2,320.6 132.6,311.8 135.9,303.8 139.3,301.5 142.6,334.7 145.9,301.2 149.3,259.7 152.6,311.8 155.9,274.7 159.3,343.5 162.6,341.8 166.0,334.7 169.3,301.5 172.6,303.3 176.0,296.2 179.3,318.8 182.6,317.1 186.0,311.8 189.3,266.2 192.6,285.3 196.0,287.1 199.3,292.4 202.7,290.6 206.0,303.8 209.3,299.4 212.7,330.3 216.0,299.8 219.3,313.5 222.7,281.8 226.0,320.6 229.3,322.0 232.7,291.5 236.0,295.9 239.4,313.5 242.7,330.3 246.0,316.2 249.4,418.0 252.7,297.6 256.0,312.6 259.4,290.6 262.7,282.6 266.0,310.9 269.4,308.2 272.7,316.2 276.1,257.9 279.4,306.5 282.7,265.9 286.1,357.6 289.4,313.5 292.7,278.2 296.1,304.7 299.4,329.4 302.7,343.5 306.1,272.9 309.4,325.0 312.8,304.7 316.1,370.0 319.4,327.6 322.8,302.9 326.1,324.1 329.4,331.2 332.8,335.6 336.1,294.1 339.4,235.9 342.8,335.6 346.1,329.1 349.5,352.4 352.8,351.5 356.1,296.2 359.5,320.6 362.8,325.9 366.1,290.6 369.5,368.2 372.8,343.5 376.1,341.8 379.5,320.6 382.8,310.9 386.2,344.4 389.5,344.4 392.8,332.9 396.2,298.5 399.5,327.6 402.8,280.0 406.2,315.3 409.5,325.9 412.8,287.1 416.2,338.2 419.5,352.1 422.9,339.4 426.2,311.2 429.5,295.3 432.9,289.1 436.2,306.8 439.5,304.1 442.9,315.6 446.2,297.9 449.5,329.7 452.9,325.3 456.2,346.5 459.6,304.1 462.9,277.6 466.2,276.2 469.6,360.6 472.9,297.1 476.2,267.9 479.6,282.9 482.9,311.2 486.2,297.1 489.6,279.4 492.9,276.8 496.3,284.7 499.6,312.1 502.9,314.7 506.3,321.8 509.6,275.0 512.9,281.2 516.3,334.1 519.6,303.2 523.0,312.9 526.3,308.5 529.6,311.2 533.0,289.1 536.3,326.2 539.6,253.8 543.0,264.4 546.3,284.7 549.6,268.8 553.0,274.1 556.3,291.8 559.7,297.1 563.0,311.2 566.3,306.8 569.7,312.1 573.0,291.8 576.3,302.4 579.7,324.4 583.0,320.9 586.3,254.7 589.7,254.7 593.0,298.8 596.4,336.8 599.7,307.6 603.0,280.3 606.4,317.4 609.7,290.0 613.0,282.9 616.4,281.2 619.7,330.6 623.0,335.0 626.4,304.1 629.7,291.8 633.1,278.5 636.4,277.3 639.7,322.6 643.1,318.2 646.4,335.0 649.7,320.0 653.1,319.1 656.4,290.9 659.7,304.1 663.1,318.2 666.4,282.1 669.8,297.1 673.1,306.8 676.4,322.6 679.8,309.4 683.1,306.8 686.4,267.9 689.8,281.2 693.1,271.5 696.4,285.6 699.8,288.2 703.1,296.0 706.5,306.6 709.8,319.0 713.1,290.7 716.5,346.3 719.8,294.1 723.1,315.3 726.5,334.7 729.8,297.6 733.1,310.0 736.5,331.2 739.8,282.6 743.2,302.1 746.5,291.5 749.8,302.9 753.2,296.8 756.5,290.6 759.8,301.2 763.2,299.4 766.5,297.6 769.8,295.9 773.2,304.7 776.5,311.8 779.9,326.8 783.2,280.0 786.5,287.9 789.9,323.2 793.2,299.4 796.5,277.4 799.9,299.4 803.2,306.5 806.5,289.7 809.9,302.9 813.2,287.1 816.6,280.9 819.9,269.4 823.2,320.6 826.6,300.3 829.9,298.5 833.2,288.8" fill="none" stroke="#00007c" stroke-width="1.53" stroke-dasharray="6.43 1.68" stroke-linejoin="round"/>
<polygon points="119.2,416.2 122.6,404.7 125.9,419.7 129.2,410.0 132.6,405.6 135.9,395.0 139.3,393.2 142.6,432.9 145.9,394.1 149.3,354.4 152.6,397.6 155.9,367.6 159.3,431.5 162.6,429.4 166.0,413.5 169.3,379.1 172.6,382.6 176.0,378.2 179.3,398.5 182.6,400.3 186.0,402.9 189.3,351.4 192.6,372.9 196.0,375.6 199.3,381.8 202.7,373.8 206.0,392.4 209.3,390.6 212.7,422.4 216.0,389.7 219.3,398.5 222.7,370.3 226.0,399.4 229.3,407.4 232.7,382.6 236.0,385.3 239.4,394.1 242.7,414.4 246.0,402.9 249.4,520.0 252.7,383.5 256.0,402.1 259.4,376.5 262.7,361.5 266.0,390.6 269.4,392.4 272.7,398.5 276.1,342.6 279.4,395.9 282.7,350.0 286.1,438.2 289.4,401.2 292.7,360.2 296.1,390.6 299.4,422.4 302.7,425.9 306.1,358.8 309.4,415.3 312.8,383.2 316.1,457.6 319.4,418.8 322.8,392.0 326.1,404.7 329.4,411.8 332.8,408.2 336.1,387.1 339.4,321.8 342.8,405.6 346.1,406.8 349.5,435.6 352.8,435.6 356.1,373.8 359.5,394.1 362.8,403.8 366.1,365.9 369.5,453.2 372.8,419.7 376.1,416.2 379.5,396.8 382.8,391.5 386.2,424.1 389.5,426.8 392.8,411.8 396.2,371.2 399.5,407.4 402.8,354.4 406.2,389.7 409.5,404.7 412.8,360.6 416.2,422.4 419.5,444.9 422.9,418.8 426.2,397.6 429.5,374.7 432.9,362.4 436.2,381.8 439.5,385.3 442.9,402.1 446.2,385.3 449.5,406.5 452.9,415.3 456.2,439.1 459.6,390.6 462.9,362.4 466.2,366.8 469.6,440.0 472.9,385.3 476.2,354.4 479.6,372.1 482.9,393.2 486.2,385.3 489.6,364.1 492.9,363.2 496.3,370.3 499.6,389.7 502.9,404.7 506.3,407.4 509.6,366.2 512.9,371.2 516.3,431.2 519.6,396.8 523.0,399.4 526.3,402.1 529.6,395.9 533.0,380.0 536.3,417.9 539.6,349.1 543.0,347.4 546.3,369.4 549.6,359.7 553.0,362.4 556.3,383.5 559.7,395.9 563.0,412.6 566.3,399.4 569.7,407.4 573.0,372.9 576.3,387.9 579.7,411.8 583.0,414.4 586.3,342.1 589.7,337.6 593.0,385.3 596.4,417.9 599.7,390.6 603.0,365.9 606.4,408.2 609.7,375.6 613.0,372.1 616.4,364.1 619.7,413.5 623.0,410.0 626.4,382.6 629.7,379.1 633.1,357.9 636.4,362.4 639.7,413.5 643.1,395.9 646.4,418.8 649.7,399.4 653.1,395.9 656.4,376.8 659.7,396.8 663.1,399.4 666.4,362.7 669.8,373.8 673.1,380.9 676.4,395.0 679.8,380.9 683.1,387.1 686.4,343.8 689.8,359.7 693.1,356.2 696.4,361.5 699.8,366.8 703.1,367.1 706.5,375.9 709.8,387.8 713.1,362.6 716.5,416.0 719.8,369.1 723.1,387.6 726.5,400.0 729.8,369.1 733.1,380.6 736.5,400.0 739.8,347.9 743.2,367.4 746.5,355.0 749.8,377.1 753.2,366.5 756.5,357.6 759.8,371.8 763.2,371.8 766.5,362.9 769.8,369.1 773.2,374.4 776.5,379.7 779.9,400.0 783.2,352.4 786.5,362.1 789.9,396.5 793.2,375.3 796.5,357.6 799.9,377.1 803.2,386.8 806.5,373.5 809.9,388.5 813.2,371.8 816.6,362.1 819.9,349.7 823.2,399.1 826.6,377.1 829.9,376.2 833.2,367.4 833.2,522.9 829.9,529.1 826.6,530.9 823.2,550.3 819.9,511.5 816.6,524.7 813.2,537.1 809.9,551.2 806.5,535.3 803.2,547.6 799.9,540.6 796.5,525.6 793.2,539.7 789.9,556.5 786.5,530.0 783.2,520.3 779.9,561.8 776.5,546.8 773.2,545.9 769.8,543.2 766.5,535.3 763.2,549.4 759.8,545.0 756.5,533.5 753.2,536.2 749.8,552.1 746.5,531.8 743.2,540.6 739.8,524.7 736.5,570.6 733.1,558.2 729.8,545.9 726.5,568.8 723.1,565.3 719.8,554.7 716.5,588.5 713.1,550.1 709.8,562.1 706.5,552.8 703.1,548.4 699.8,546.5 696.4,543.8 693.1,539.4 689.8,541.2 686.4,524.4 683.1,560.6 679.8,552.6 676.4,570.3 673.1,557.1 669.8,552.6 666.4,544.7 663.1,578.2 659.7,572.9 656.4,556.2 653.1,571.2 649.7,578.2 646.4,590.6 643.1,572.9 639.7,586.2 636.4,540.3 633.1,535.5 629.7,561.5 626.4,563.2 623.0,581.8 619.7,586.2 616.4,546.5 613.0,552.6 609.7,557.9 606.4,574.7 603.0,549.1 599.7,569.4 596.4,594.1 593.0,564.1 589.7,521.4 586.3,528.8 583.0,590.6 579.7,587.1 576.3,565.9 573.0,550.9 569.7,588.4 566.3,585.3 563.0,592.4 559.7,580.0 556.3,567.6 553.0,553.5 549.6,550.0 546.3,553.5 543.0,541.2 539.6,542.9 536.3,588.8 533.0,568.5 529.6,581.8 526.3,586.2 523.0,586.2 519.6,581.8 516.3,602.9 512.9,555.3 509.6,550.0 506.3,588.8 502.9,585.3 499.6,572.1 496.3,551.8 492.9,550.9 489.6,550.0 486.2,564.1 482.9,572.9 479.6,559.7 476.2,546.5 472.9,565.9 469.6,602.9 466.2,550.0 462.9,546.5 459.6,569.4 456.2,610.0 452.9,590.6 449.5,580.0 446.2,563.2 442.9,572.9 439.5,564.1 436.2,556.2 432.9,539.4 429.5,554.4 426.2,574.7 422.9,588.8 419.5,610.0 416.2,583.5 412.8,537.6 409.5,572.9 406.2,560.6 402.8,530.6 399.5,572.9 396.2,546.5 392.8,576.5 389.5,594.1 386.2,590.6 382.8,565.0 379.5,565.9 376.1,583.5 372.8,587.9 369.5,604.7 366.1,543.8 362.8,572.1 359.5,568.5 356.1,551.8 352.8,597.6 349.5,599.4 346.1,582.6 342.8,577.4 339.4,505.0 336.1,560.6 332.8,580.0 329.4,583.5 326.1,580.0 322.8,568.5 319.4,581.8 316.1,613.5 312.8,561.5 309.4,581.8 306.1,541.2 302.7,588.8 299.4,593.2 296.1,564.1 292.7,540.3 289.4,581.8 286.1,602.9 282.7,527.1 279.4,567.6 276.1,525.3 272.7,572.9 269.4,570.4 266.0,561.8 262.7,541.5 259.4,551.2 256.0,574.1 252.7,553.8 249.4,617.0 246.0,577.6 242.7,578.5 239.4,565.3 236.0,556.5 232.7,552.9 229.3,575.9 226.0,568.8 222.7,553.8 219.3,572.4 216.0,562.6 212.7,596.2 209.3,579.4 206.0,570.6 202.7,550.3 199.3,558.2 196.0,557.4 192.6,560.0 189.3,533.5 186.0,584.7 182.6,580.3 179.3,584.7 176.0,564.4 172.6,563.5 169.3,564.4 166.0,588.2 162.6,605.9 159.3,602.4 155.9,551.2 152.6,573.2 149.3,546.8 145.9,579.4 142.6,605.0 139.3,576.8 135.9,575.9 132.6,583.8 129.2,587.4 125.9,597.9 122.6,582.9 119.2,591.8" fill="#0000ff" fill-opacity="0.5"/>
<polyline points="119.2,591.8 122.6,582.9 125.9,597.9 129.2,587.4 132.6,583.8 135.9,575.9 139.3,576.8 142.6,605.0 145.9,579.4 149.3,546.8 152.6,573.2 155.9,551.2 159.3,602.4 162.6,605.9 166.0,588.2 169.3,564.4 172.6,563.5 176.0,564.4 179.3,584.7 182.6,580.3 186.0,584.7 189.3,533.5 192.6,560.0 196.0,557.4 199.3,558.2 202.7,550.3 206.0,570.6 209.3,579.4 212.7,596.2 216.0,562.6 219.3,572.4 222.7,553.8 226.0,568.8 229.3,575.9 232.7,552.9 236.0,556.5 239.4,565.3 242.7,578.5 246.0,577.6 249.4,617.0 252.7,553.8 256.0,574.1 259.4,551.2 262.7,541.5 266.0,561.8 269.4,570.4 272.7,572.9 276.1,525.3 279.4,567.6 282.7,527.1 286.1,602.9 289.4,581.8 292.7,540.3 296.1,564.1 299.4,593.2 302.7,588.8 306.1,541.2 309.4,581.8 312.8,561.5 316.1,613.5 319.4,581.8 322.8,568.5 326.1,580.0 329.4,583.5 332.8,580.0 336.1,560.6 339.4,505.0 342.8,577.4 346.1,582.6 349.5,599.4 352.8,597.6 356.1,551.8 359.5,568.5 362.8,572.1 366.1,543.8 369.5,604.7 372.8,587.9 376.1,583.5 379.5,565.9 382.8,565.0 386.2,590.6 389.5,594.1 392.8,576.5 396.2,546.5 399.5,572.9 402.8,530.6 406.2,560.6 409.5,572.9 412.8,537.6 416.2,583.5 419.5,610.0 422.9,588.8 426.2,574.7 429.5,554.4 432.9,539.4 436.2,556.2 439.5,564.1 442.9,572.9 446.2,563.2 449.5,580.0 452.9,590.6 456.2,610.0 459.6,569.4 462.9,546.5 466.2,550.0 469.6,602.9 472.9,565.9 476.2,546.5 479.6,559.7 482.9,572.9 486.2,564.1 489.6,550.0 492.9,550.9 496.3,551.8 499.6,572.1 502.9,585.3 506.3,588.8 509.6,550.0 512.9,555.3 516.3,602.9 519.6,581.8 523.0,586.2 526.3,586.2 529.6,581.8 533.0,568.5 536.3,588.8 539.6,542.9 543.0,541.2 546.3,553.5 549.6,550.0 553.0,553.5 556.3,567.6 559.7,580.0 563.0,592.4 566.3,585.3 569.7,588.4 573.0,550.9 576.3,565.9 579.7,587.1 583.0,590.6 586.3,528.8 589.7,521.4 593.0,564.1 596.4,594.1 599.7,569.4 603.0,549.1 606.4,574.7 609.7,557.9 613.0,552.6 616.4,546.5 619.7,586.2 623.0,581.8 626.4,563.2 629.7,561.5 633.1,535.5 636.4,540.3 639.7,586.2 643.1,572.9 646.4,590.6 649.7,578.2 653.1,571.2 656.4,556.2 659.7,572.9 663.1,578.2 666.4,544.7 669.8,552.6 673.1,557.1 676.4,570.3 679.8,552.6 683.1,560.6 686.4,524.4 689.8,541.2 693.1,539.4 696.4,543.8 699.8,546.5 703.1,548.4 706.5,552.8 709.8,562.1 713.1,550.1 716.5,588.5 719.8,554.7 723.1,565.3 726.5,568.8 729.8,545.9 733.1,558.2 736.5,570.6 739.8,524.7 743.2,540.6 746.5,531.8 749.8,552.1 753.2,536.2 756.5,533.5 759.8,545.0 763.2,549.4 766.5,535.3 769.8,543.2 773.2,545.9 776.5,546.8 779.9,561.8 783.2,520.3 786.5,530.0 789.9,556.5 793.2,539.7 796.5,525.6 799.9,540.6 803.2,547.6 806.5,535.3 809.9,551.2 813.2,537.1 816.6,524.7 819.9,511.5 823.2,550.3 826.6,530.9 829.9,529.1 833.2,522.9" fill="none" stroke="#7070ff" stroke-width="1.94" stroke-dasharray="8.15 2.13" stroke-linejoin="round"/>
<polyline points="119.2,416.2 122.6,404.7 125.9,419.7 129.2,410.0 132.6,405.6 135.9,395.0 139.3,393.2 142.6,432.9 145.9,394.1 149.3,354.4 152.6,397.6 155.9,367.6 159.3,431.5 162.6,429.4 166.0,413.5 169.3,379.1 172.6,382.6 176.0,378.2 179.3,398.5 182.6,400.3 186.0,402.9 189.3,351.4 192.6,372.9 196.0,375.6 199.3,381.8 202.7,373.8 206.0,392.4 209.3,390.6 212.7,422.4 216.0,389.7 219.3,398.5 222.7,370.3 226.0,399.4 229.3,407.4 232.7,382.6 236.0,385.3 239.4,394.1 242.7,414.4 246.0,402.9 249.4,520.0 252.7,383.5 256.0,402.1 259.4,376.5 262.7,361.5 266.0,390.6 269.4,392.4 272.7,398.5 276.1,342.6 279.4,395.9 282.7,350.0 286.1,438.2 289.4,401.2 292.7,360.2 296.1,390.6 299.4,422.4 302.7,425.9 306.1,358.8 309.4,415.3 312.8,383.2 316.1,457.6 319.4,418.8 322.8,392.0 326.1,404.7 329.4,411.8 332.8,408.2 336.1,387.1 339.4,321.8 342.8,405.6 346.1,406.8 349.5,435.6 352.8,435.6 356.1,373.8 359.5,394.1 362.8,403.8 366.1,365.9 369.5,453.2 372.8,419.7 376.1,416.2 379.5,396.8 382.8,391.5 386.2,424.1 389.5,426.8 392.8,411.8 396.2,371.2 399.5,407.4 402.8,354.4 406.2,389.7 409.5,404.7 412.8,360.6 416.2,422.4 419.5,444.9 422.9,418.8 426.2,397.6 429.5,374.7 432.9,362.4 436.2,381.8 439.5,385.3 442.9,402.1 446.2,385.3 449.5,406.5 452.9,415.3 456.2,439.1 459.6,390.6 462.9,362.4 466.2,366.8 469.6,440.0 472.9,385.3 476.2,354.4 479.6,372.1 482.9,393.2 486.2,385.3 489.6,364.1 492.9,363.2 496.3,370.3 499.6,389.7 502.9,404.7 506.3,407.4 509.6,366.2 512.9,371.2 516.3,431.2 519.6,396.8 523.0,399.4 526.3,402.1 529.6,395.9 533.0,380.0 536.3,417.9 539.6,349.1 543.0,347.4 546.3,369.4 549.6,359.7 553.0,362.4 556.3,383.5 559.7,395.9 563.0,412.6 566.3,399.4 569.7,407.4 573.0,372.9 576.3,387.9 579.7,411.8 583.0,414.4 586.3,342.1 589.7,337.6 593.0,385.3 596.4,417.9 599.7,390.6 603.0,365.9 606.4,408.2 609.7,375.6 613.0,372.1 616.4,364.1 619.7,413.5 623.0,410.0 626.4,382.6 629.7,379.1 633.1,357.9 636.4,362.4 639.7,413.5 643.1,395.9 646.4,418.8 649.7,399.4 653.1,395.9 656.4,376.8 659.7,396.8 663.1,399.4 666.4,362.7 669.8,373.8 673.1,380.9 676.4,395.0 679.8,380.9 683.1,387.1 686.4,343.8 689.8,359.7 693.1,356.2 696.4,361.5 699.8,366.8 703.1,367.1 706.5,375.9 709.8,387.8 713.1,362.6 716.5,416.0 719.8,369.1 723.1,387.6 726.5,400.0 729.8,369.1 733.1,380.6 736.5,400.0 739.8,347.9 743.2,367.4 746.5,355.0 749.8,377.1 753.2,366.5 756.5,357.6 759.8,371.8 763.2,371.8 766.5,362.9 769.8,369.1 773.2,374.4 776.5,379.7 779.9,400.0 783.2,352.4 786.5,362.1 789.9,396.5 793.2,375.3 796.5,357.6 799.9,377.1 803.2,386.8 806.5,373.5 809.9,388.5 813.2,371.8 816.6,362.1 819.9,349.7 823.2,399.1 826.6,377.1 829.9,376.2 833.2,367.4" fill="none" stroke="#000052" stroke-width="1.94" stroke-dasharray="8.15 2.13" stroke-linejoin="round"/>
<polyline points="119.2,518.8 122.6,492.4 125.9,509.1 129.2,506.8 132.6,500.3 135.9,486.7 139.3,484.9 142.6,525.0 145.9,497.6 149.3,451.8 152.6,486.7 155.9,461.5 159.3,523.8 162.6,523.8 166.0,507.4 169.3,475.1 172.6,477.4 176.0,475.1 179.3,493.2 182.6,495.0 186.0,500.3 189.3,443.8 192.6,470.3 196.0,472.1 199.3,477.4 202.7,466.8 206.0,487.9 209.3,492.4 212.7,519.7 216.0,485.6 219.3,493.2 222.7,465.0 226.0,487.9 229.3,500.3 232.7,472.6 236.0,476.5 239.4,482.6 242.7,505.6 246.0,498.0 249.4,577.5 252.7,474.7 256.0,498.5 259.4,468.5 262.7,456.2 266.0,484.4 269.4,487.6 272.7,492.6 276.1,438.5 279.4,495.3 282.7,443.2 286.1,529.7 289.4,521.8 292.7,456.8 296.1,482.9 299.4,522.6 302.7,520.0 306.1,452.9 309.4,512.1 312.8,473.8 316.1,553.5 319.4,507.6 322.8,491.8 326.1,497.9 329.4,509.4 332.8,498.8 336.1,485.6 339.4,411.5 342.8,497.1 346.1,503.2 349.5,528.8 352.8,527.9 356.1,470.6 359.5,483.8 362.8,497.1 366.1,460.0 369.5,547.8 372.8,510.3 376.1,506.8 379.5,487.4 382.8,487.7 386.2,518.2 389.5,521.4 392.8,498.8 396.2,465.3 399.5,501.5 402.8,446.2 406.2,484.7 409.5,502.0 412.8,454.7 416.2,512.9 419.5,544.0 422.9,514.1 426.2,500.9 429.5,475.3 432.9,456.8 436.2,475.3 439.5,482.4 442.9,500.0 446.2,485.0 449.5,503.5 452.9,517.6 456.2,539.7 459.6,484.1 462.9,459.4 466.2,467.4 469.6,534.4 472.9,480.6 476.2,451.5 479.6,466.5 482.9,486.8 486.2,480.6 489.6,458.5 492.9,458.5 496.3,464.7 499.6,481.5 502.9,502.6 506.3,503.5 509.6,463.8 512.9,468.2 516.3,534.4 519.6,500.9 523.0,499.6 526.3,507.9 529.6,498.2 533.0,480.6 536.3,517.6 539.6,456.8 543.0,444.4 546.3,464.7 549.6,462.1 553.0,462.6 556.3,485.9 559.7,500.0 563.0,515.5 566.3,497.4 569.7,507.8 573.0,460.0 576.3,482.9 579.7,506.8 583.0,513.8 586.3,441.5 589.7,429.1 593.0,488.2 596.4,511.2 599.7,482.9 603.0,457.4 606.4,493.5 609.7,467.9 613.0,463.5 616.4,452.6 619.7,504.1 623.0,498.8 626.4,473.8 629.7,473.8 633.1,450.3 636.4,452.9 639.7,508.0 643.1,487.4 646.4,512.9 649.7,490.9 653.1,485.6 656.4,466.2 659.7,494.4 663.1,495.3 666.4,454.7 669.8,465.3 673.1,467.4 676.4,487.4 679.8,467.1 683.1,481.5 686.4,434.4 689.8,456.8 693.1,453.3 696.4,456.5 699.8,461.8 703.1,460.5 706.5,465.1 709.8,479.1 713.1,460.1 716.5,511.9 719.8,467.6 723.1,485.3 726.5,491.5 729.8,460.6 733.1,473.8 736.5,492.4 739.8,440.3 743.2,462.4 746.5,446.1 749.8,471.2 753.2,452.6 756.5,450.9 759.8,465.9 763.2,466.8 766.5,456.2 769.8,465.9 773.2,470.3 776.5,472.1 779.9,492.0 783.2,446.8 786.5,457.1 789.9,487.9 793.2,470.3 796.5,454.4 799.9,474.7 803.2,481.8 806.5,465.0 809.9,481.8 813.2,463.2 816.6,451.8 819.9,435.9 823.2,484.4 826.6,463.2 829.9,461.5 833.2,451.8" fill="none" stroke="#000" stroke-width="2.3" stroke-linejoin="round" stroke-linecap="square"/>
</g>
<g stroke="#000" stroke-width="1.11" fill="none" stroke-linecap="square">
<line x1="119.5" y1="39.5" x2="119.5" y2="765.5"/><line x1="833.5" y1="39.5" x2="833.5" y2="765.5"/><line x1="119.5" y1="765.5" x2="833.5" y2="765.5"/><line x1="119.5" y1="39.5" x2="833.5" y2="39.5"/>
</g>
<g stroke="#000" stroke-width="1.11" stroke-linecap="butt">
<line x1="119.5" y1="765.5" x2="119.5" y2="771.75"/>
<line x1="203.5" y1="765.5" x2="203.5" y2="771.75"/>
<line x1="286.5" y1="765.5" x2="286.5" y2="771.75"/>
<line x1="369.5" y1="765.5" x2="369.5" y2="771.75"/>
<line x1="453.5" y1="765.5" x2="453.5" y2="771.75"/>
<line x1="536.5" y1="765.5" x2="536.5" y2="771.75"/>
<line x1="620.5" y1="765.5" x2="620.5" y2="771.75"/>
<line x1="703.5" y1="765.5" x2="703.5" y2="771.75"/>
<line x1="787.5" y1="765.5" x2="787.5" y2="771.75"/>
<line x1="113.25" y1="717.5" x2="119.5" y2="717.5"/>
<line x1="113.25" y1="582.5" x2="119.5" y2="582.5"/>
<line x1="113.25" y1="446.5" x2="119.5" y2="446.5"/>
<line x1="113.25" y1="311.5" x2="119.5" y2="311.5"/>
<line x1="113.25" y1="176.5" x2="119.5" y2="176.5"/>
<line x1="113.25" y1="40.5" x2="119.5" y2="40.5"/>
</g>
<text x="114.05" y="789.00" font-size="17.0" textLength="10.33" lengthAdjust="spacingAndGlyphs" >0</text>
<text x="191.88" y="789.00" font-size="17.0" textLength="19.61" lengthAdjust="spacingAndGlyphs" >25</text>
<text x="275.27" y="789.00" font-size="17.0" textLength="19.92" lengthAdjust="spacingAndGlyphs" >50</text>
<text x="358.85" y="789.00" font-size="17.0" textLength="19.63" lengthAdjust="spacingAndGlyphs" >75</text>
<text x="438.38" y="789.00" font-size="17.0" textLength="29.85" lengthAdjust="spacingAndGlyphs" >100</text>
<text x="521.51" y="789.00" font-size="17.0" textLength="28.80" lengthAdjust="spacingAndGlyphs" >125</text>
<text x="605.47" y="789.00" font-size="17.0" textLength="29.77" lengthAdjust="spacingAndGlyphs" >150</text>
<text x="688.05" y="789.00" font-size="17.0" textLength="29.19" lengthAdjust="spacingAndGlyphs" >175</text>
<text x="770.51" y="789.00" font-size="17.0" textLength="30.69" lengthAdjust="spacingAndGlyphs" >200</text>
<text x="70.31" y="724.00" font-size="17.0" textLength="35.40" lengthAdjust="spacingAndGlyphs" >0.01</text>
<text x="70.31" y="588.00" font-size="17.0" textLength="35.45" lengthAdjust="spacingAndGlyphs" >0.02</text>
<text x="70.31" y="453.00" font-size="17.0" textLength="35.30" lengthAdjust="spacingAndGlyphs" >0.03</text>
<text x="70.31" y="318.00" font-size="17.0" textLength="35.02" lengthAdjust="spacingAndGlyphs" >0.04</text>
<text x="70.31" y="182.00" font-size="17.0" textLength="35.25" lengthAdjust="spacingAndGlyphs" >0.05</text>
<text x="70.31" y="47.00" font-size="17.0" textLength="35.44" lengthAdjust="spacingAndGlyphs" >0.06</text>
<text x="403.20" y="811.00" font-size="17.0" textLength="58.02" lengthAdjust="spacingAndGlyphs">Binned</text>
<text x="466.52" y="811.00" font-size="17.0" textLength="30.32" lengthAdjust="spacingAndGlyphs">row</text>
<text x="502.14" y="811.00" font-size="17.0" textLength="45.60" lengthAdjust="spacingAndGlyphs">index</text>
<g transform="translate(60.00,547.90) rotate(-90)">
<text x="0.00" y="0" font-size="17.0" textLength="24.76" lengthAdjust="spacingAndGlyphs">CO</text>
<text x="30.05" y="0" font-size="17.0" textLength="38.11" lengthAdjust="spacingAndGlyphs">total</text>
<text x="73.46" y="0" font-size="17.0" textLength="62.14" lengthAdjust="spacingAndGlyphs">vertical</text>
<text x="140.91" y="0" font-size="17.0" textLength="61.35" lengthAdjust="spacingAndGlyphs">column</text>
<text x="207.56" y="0" font-size="17.0" textLength="37.57" lengthAdjust="spacingAndGlyphs">[mol</text>
<text x="250.42" y="0" font-size="17.0" textLength="16.24" lengthAdjust="spacingAndGlyphs">m</text>
<text x="267.70" y="-5.70" font-size="9.9" textLength="8.94" lengthAdjust="spacingAndGlyphs">−</text>
<text x="275.90" y="-5.70" font-size="9.9">2</text>
<text x="282.60" y="0" font-size="17.0" textLength="6.50" lengthAdjust="spacingAndGlyphs">]</text>
</g>
<rect x="119.0" y="16.95" width="714.0" height="22.05" rx="2.2" ry="2.2" fill="#fff" fill-opacity="0.8" stroke="#ccc" stroke-opacity="0.8" stroke-width="1.39"/>
<line x1="124.3" y1="27.5" x2="147.5" y2="27.5" stroke="#c6c6ff" stroke-width="0.75" stroke-dasharray="3.15 0.83"/>
<text x="156.74" y="32.00" font-size="12.6" textLength="36.05" lengthAdjust="spacingAndGlyphs" stroke="#000" stroke-width="0.12">1-99%</text>
<line x1="278.4" y1="27.5" x2="301.6" y2="27.5" stroke="#9a9aff" stroke-width="1.11" stroke-dasharray="4.66 1.22"/>
<text x="311.83" y="32.00" font-size="12.6" textLength="35.96" lengthAdjust="spacingAndGlyphs" stroke="#000" stroke-width="0.12">5-95%</text>
<line x1="432.4" y1="27.5" x2="455.2" y2="27.5" stroke="#7878ff" stroke-width="1.53" stroke-dasharray="6.43 1.68"/>
<text x="464.68" y="32.00" font-size="12.6" textLength="42.98" lengthAdjust="spacingAndGlyphs" stroke="#000" stroke-width="0.12">10-90%</text>
<line x1="593.0" y1="27.5" x2="615.9" y2="27.5" stroke="#6666ff" stroke-width="1.94" stroke-dasharray="8.15 2.13"/>
<text x="626.89" y="32.00" font-size="12.6" textLength="42.71" lengthAdjust="spacingAndGlyphs" stroke="#000" stroke-width="0.12">25-75%</text>
<line x1="754.3" y1="27.5" x2="777.4" y2="27.5" stroke="#000" stroke-width="2.08" stroke-linecap="square"/>
<text x="787.10" y="32.00" font-size="12.6" textLength="41.01" lengthAdjust="spacingAndGlyphs" stroke="#000" stroke-width="0.12">Median</text>
</svg></body></html>
